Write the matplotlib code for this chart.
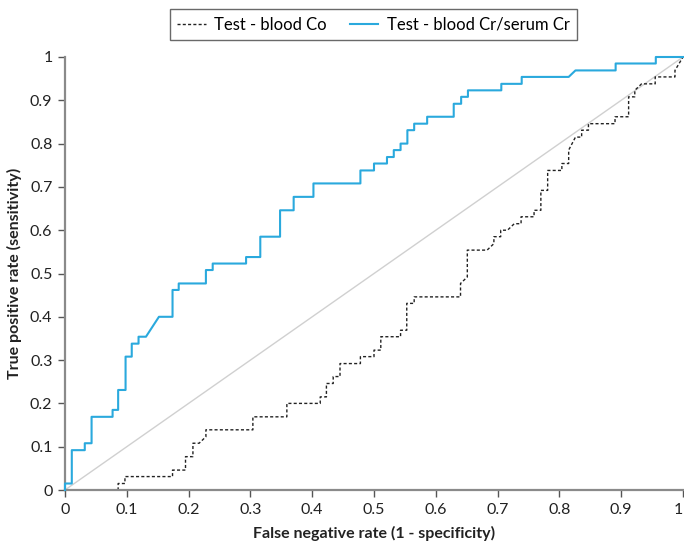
import matplotlib
matplotlib.use('Agg')
import matplotlib.pyplot as plt

#####################  data  ####################
# Test - blood Co (black dashed)
co_fpr = [0, 0.086, 0.086, 0.097, 0.097, 0.174, 0.174, 0.195, 0.195, 0.207, 0.207, 0.217, 0.228, 0.228,
          0.304, 0.304, 0.359, 0.359, 0.413, 0.413, 0.423, 0.423, 0.434, 0.434, 0.445, 0.445,
          0.478, 0.478, 0.500, 0.500, 0.511, 0.511, 0.543, 0.543, 0.553, 0.553, 0.565, 0.565,
          0.640, 0.640, 0.651, 0.651, 0.683, 0.694, 0.694, 0.705, 0.705, 0.716, 0.727, 0.738, 0.738,
          0.759, 0.759, 0.770, 0.770, 0.781, 0.781, 0.804, 0.804, 0.815, 0.815, 0.826, 0.836, 0.836,
          0.847, 0.847, 0.890, 0.890, 0.912, 0.912, 0.922, 0.922, 0.933, 0.955, 0.955, 0.987, 0.987, 1.0]
co_tpr = [0, 0, 0.015, 0.015, 0.031, 0.031, 0.046, 0.046, 0.077, 0.077, 0.108, 0.108, 0.123, 0.139,
          0.139, 0.169, 0.169, 0.200, 0.200, 0.215, 0.215, 0.246, 0.246, 0.262, 0.262, 0.292,
          0.292, 0.308, 0.308, 0.323, 0.323, 0.354, 0.354, 0.369, 0.369, 0.431, 0.431, 0.446,
          0.446, 0.477, 0.492, 0.554, 0.554, 0.569, 0.585, 0.585, 0.600, 0.600, 0.615, 0.615, 0.631,
          0.631, 0.646, 0.646, 0.692, 0.692, 0.738, 0.738, 0.754, 0.754, 0.785, 0.815, 0.815, 0.831,
          0.831, 0.846, 0.846, 0.862, 0.862, 0.908, 0.908, 0.923, 0.938, 0.938, 0.954, 0.954, 0.969, 1.0]

# Test - blood Cr/serum Cr (blue)
cr_fpr = [0, 0, 0.011, 0.011, 0.032, 0.032, 0.043, 0.043, 0.077, 0.077, 0.086, 0.086, 0.098, 0.098,
          0.108, 0.108, 0.119, 0.119, 0.131, 0.152, 0.174, 0.174, 0.184, 0.184, 0.228, 0.228,
          0.239, 0.239, 0.293, 0.293, 0.316, 0.316, 0.348, 0.348, 0.370, 0.370, 0.402, 0.402,
          0.478, 0.478, 0.500, 0.500, 0.521, 0.521, 0.532, 0.532, 0.543, 0.543, 0.554, 0.554,
          0.565, 0.565, 0.586, 0.586, 0.629, 0.629, 0.641, 0.641, 0.652, 0.652, 0.706, 0.706,
          0.739, 0.739, 0.815, 0.826, 0.891, 0.891, 0.956, 0.956, 1.0]
cr_tpr = [0, 0.015, 0.015, 0.092, 0.092, 0.108, 0.108, 0.169, 0.169, 0.185, 0.185, 0.231, 0.231, 0.308,
          0.308, 0.338, 0.338, 0.354, 0.354, 0.400, 0.400, 0.462, 0.462, 0.477, 0.477, 0.508,
          0.508, 0.523, 0.523, 0.538, 0.538, 0.585, 0.585, 0.646, 0.646, 0.677, 0.677, 0.708,
          0.708, 0.738, 0.738, 0.754, 0.754, 0.769, 0.769, 0.785, 0.785, 0.800, 0.800, 0.831,
          0.831, 0.846, 0.846, 0.862, 0.862, 0.892, 0.892, 0.908, 0.908, 0.923, 0.923, 0.938,
          0.938, 0.954, 0.954, 0.969, 0.969, 0.985, 0.985, 1.0, 1.0]

ticks = [0, 0.1, 0.2, 0.3, 0.4, 0.5, 0.6, 0.7, 0.8, 0.9, 1]
tick_labels = ['0', '0.1', '0.2', '0.3', '0.4', '0.5', '0.6', '0.7', '0.8', '0.9', '1']

#####################  plot  ####################
plt.rcParams['font.family'] = ['Lato', 'DejaVu Sans']
AXIS_GREY = '#8a8a8a'

fig = plt.figure(figsize=(6.84, 5.51), dpi=100)
ax = fig.add_axes([65 / 684, 61 / 551, 618 / 684, 433 / 551])

ax.plot([0, 1], [0, 1], color='#d0d0d0', lw=1, zorder=1)
ax.plot(co_fpr, co_tpr, color='#222222', lw=1, linestyle=(0, (2.2, 1.6)),
        label='Test - blood Co', zorder=2, clip_on=False)
ax.plot(cr_fpr, cr_tpr, color='#2aa9dd', lw=1.5, label='Test - blood Cr/serum Cr',
        zorder=3, clip_on=False)

ax.set_xlim(0, 1)
ax.set_ylim(0, 1)
ax.set_xticks(ticks)
ax.set_xticklabels(tick_labels)
ax.set_yticks(ticks)
ax.set_yticklabels(tick_labels)
# last x label sits at the figure edge, keep it inside
ax.get_xticklabels()[-1].set_horizontalalignment('right')

for side in ['top', 'right']:
    ax.spines[side].set_visible(False)
for side in ['left', 'bottom']:
    ax.spines[side].set_color(AXIS_GREY)
    ax.spines[side].set_linewidth(1.6)
ax.tick_params(direction='out', length=5, width=1, color='#555555',
               labelsize=11.5, labelcolor='#222222', pad=4)

ax.set_xlabel('False negative rate (1 - specificity)', fontsize=11.5, fontweight='bold',
              color='#222222', labelpad=7)
ax.set_ylabel('True positive rate (sensitivity)', fontsize=11.5, fontweight='bold',
              color='#222222', labelpad=6)

leg = fig.legend(loc='upper center', bbox_to_anchor=(373.5 / 684, 0.998), ncol=2,
                 fontsize=12, frameon=True, fancybox=False, handlelength=1.7,
                 columnspacing=1.4, borderpad=0.45, handletextpad=0.5)
leg.get_frame().set_edgecolor('#444444')
leg.get_frame().set_linewidth(1.0)

fig.savefig('out.png', dpi=100)
